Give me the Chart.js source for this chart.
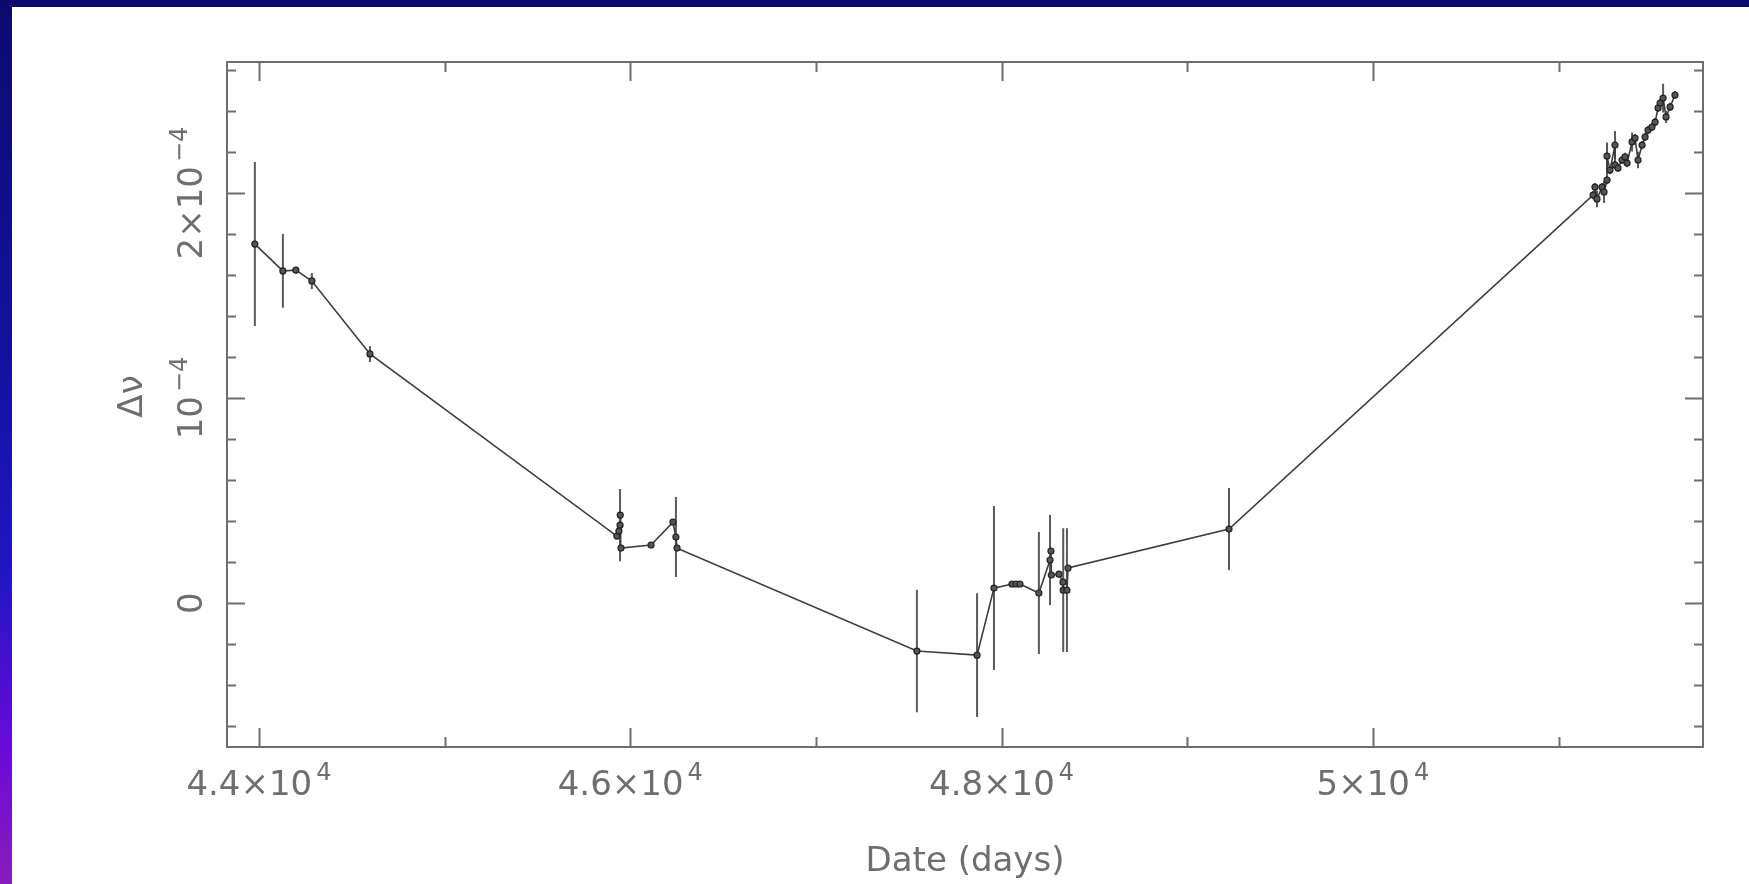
<!DOCTYPE html>
<html>
<head>
<meta charset="utf-8">
<script src="https://cdn.jsdelivr.net/npm/chart.js@4.4.1/dist/chart.umd.min.js"></script>
<style>
  html, body { margin: 0; padding: 0; }
  body { width: 1749px; height: 884px; position: relative; overflow: hidden; background: #fff; }
  #topband { position: absolute; left: 0; top: 0; width: 1749px; height: 7px; background: #0b0b6e; }
  #leftband { position: absolute; left: 0; top: 0; width: 12px; height: 884px;
    background: linear-gradient(#0b0b6e 0%, #1212a0 40%, #2016c4 65%, #6a0ad6 85%, #8a1cbc 100%); }
  #wrap { position: absolute; left: 12px; top: 7px; width: 1737px; height: 877px; }
</style>
</head>
<body>
<div id="topband"></div>
<div id="leftband"></div>
<div id="wrap"><canvas id="myChart" width="1737" height="877"></canvas></div>
<script>
// dates (days) and frequency offsets with their 1-sigma errors
const dates = [
  43978, 44129, 44199, 44285, 44598,
  45928, 45939, 45945, 45946, 45950, 46112, 46230, 46246, 46252,
  47544, 47868, 47959, 48056, 48078, 48099, 48201,
  48261, 48266, 48268, 48309, 48331, 48332, 48352, 48358,
  49225,
  51186, 51196, 51207, 51234, 51245, 51261, 51261, 51277, 51304, 51304,
  51320, 51342, 51358, 51369, 51396, 51412, 51428, 51450, 51466, 51482,
  51503, 51520, 51536, 51547, 51563, 51579, 51601, 51627
];
const dnu = [
  1.751e-4, 1.620e-4, 1.624e-4, 1.571e-4, 1.215e-4,
  0.327e-4, 0.351e-4, 0.380e-4, 0.429e-4, 0.268e-4, 0.283e-4, 0.395e-4, 0.322e-4, 0.268e-4,
  -0.234e-4, -0.254e-4, 0.073e-4, 0.093e-4, 0.093e-4, 0.093e-4, 0.049e-4,
  0.210e-4, 0.254e-4, 0.137e-4, 0.141e-4, 0.102e-4, 0.063e-4, 0.063e-4, 0.171e-4,
  0.361e-4,
  1.990e-4, 2.029e-4, 1.971e-4, 2.029e-4, 2.005e-4, 2.063e-4, 2.180e-4, 2.112e-4, 2.234e-4, 2.137e-4,
  2.122e-4, 2.161e-4, 2.176e-4, 2.146e-4, 2.249e-4, 2.268e-4, 2.161e-4, 2.234e-4, 2.273e-4, 2.307e-4,
  2.322e-4, 2.346e-4, 2.415e-4, 2.439e-4, 2.463e-4, 2.371e-4, 2.420e-4, 2.478e-4
];
const dnuErr = [
  0.400e-4, 0.180e-4, 0.015e-4, 0.039e-4, 0.039e-4,
  0.01e-4, 0.01e-4, 0.176e-4, 0.01e-4, 0.01e-4, 0.01e-4, 0.01e-4, 0.195e-4, 0.01e-4,
  0.298e-4, 0.302e-4, 0.400e-4, 0.01e-4, 0.01e-4, 0.01e-4, 0.298e-4,
  0.220e-4, 0.01e-4, 0.01e-4, 0.01e-4, 0.01e-4, 0.302e-4, 0.302e-4, 0.01e-4,
  0.200e-4,
  0.02e-4, 0.02e-4, 0.040e-4, 0.02e-4, 0.054e-4, 0.02e-4, 0.066e-4, 0.02e-4, 0.068e-4, 0.02e-4,
  0.02e-4, 0.02e-4, 0.02e-4, 0.02e-4, 0.046e-4, 0.02e-4, 0.040e-4, 0.02e-4, 0.02e-4, 0.02e-4,
  0.02e-4, 0.02e-4, 0.02e-4, 0.02e-4, 0.070e-4, 0.03e-4, 0.02e-4, 0.02e-4
];

// axis ranges and labelled ticks (base, exponent)
const xMin = 43828, xMax = 51778;
const yMin = -0.702e-4, yMax = 2.639e-4;
const xMinorStep = 1000, xMajorStep = 2000;
const yMinorStep = 2e-5, yMajorStep = 1e-4;
const xTickValues = [44000, 46000, 48000, 50000];
const xTickLabels = [['4.4×10', '4'], ['4.6×10', '4'], ['4.8×10', '4'], ['5×10', '4']];
const yTickValues = [0, 1e-4, 2e-4];
const yTickLabels = [['0', ''], ['10', '−4'], ['2×10', '−4']];

const FONT = '"DejaVu Sans", sans-serif';
const INK = '#6e6e6e';

function isMajor(v, step) {
  const r = v / step;
  return Math.abs(r - Math.round(r)) < 1e-6;
}

// ticks on whole multiples of the step inside the range
function stepTicks(step) {
  return s => {
    const t = [];
    for (let k = Math.ceil(s.min / step - 1e-9); k * step <= s.max + step * 1e-9; k++) {
      t.push({ value: k * step });
    }
    s.ticks = t;
  };
}

// text with a raised exponent, centred on (0,0) along the baseline
function drawSup(ctx, base, sup) {
  ctx.font = '34px ' + FONT;
  const wb = ctx.measureText(base).width;
  ctx.font = '24px ' + FONT;
  const ws = sup ? ctx.measureText(sup).width + 4 : 0;
  const x0 = -(wb + ws) / 2;
  ctx.textAlign = 'left';
  ctx.textBaseline = 'alphabetic';
  ctx.font = '34px ' + FONT;
  ctx.fillText(base, x0, 0);
  if (sup) {
    ctx.font = '24px ' + FONT;
    ctx.fillText(sup, x0 + wb + 4, -15);
  }
}

const framePlugin = {
  id: 'frame',
  beforeDatasetsDraw(chart) {
    const ctx = chart.ctx;
    const ys = chart.scales.y;
    const meta = chart.getDatasetMeta(0);
    ctx.save();
    ctx.strokeStyle = '#5a5a5a';
    ctx.lineWidth = 2;
    ctx.beginPath();
    meta.data.forEach((pt, i) => {
      const top = ys.getPixelForValue(dnu[i] + dnuErr[i]);
      const bot = ys.getPixelForValue(dnu[i] - dnuErr[i]);
      ctx.moveTo(pt.x, top);
      ctx.lineTo(pt.x, bot);
    });
    ctx.stroke();
    ctx.restore();
  },
  afterDraw(chart) {
    const ctx = chart.ctx;
    const a = chart.chartArea;
    const xs = chart.scales.x, ys = chart.scales.y;
    ctx.save();
    ctx.strokeStyle = INK;
    ctx.lineWidth = 2;
    ctx.strokeRect(a.left, a.top, a.right - a.left, a.bottom - a.top);

    // inward ticks on all four sides
    ctx.beginPath();
    xs.ticks.forEach(t => {
      const px = Math.round(xs.getPixelForValue(t.value)) + 0.5;
      const len = isMajor(t.value, xMajorStep) ? 19 : 10;
      ctx.moveTo(px, a.bottom); ctx.lineTo(px, a.bottom - len);
      ctx.moveTo(px, a.top); ctx.lineTo(px, a.top + len);
    });
    ys.ticks.forEach(t => {
      const py = Math.round(ys.getPixelForValue(t.value)) + 0.5;
      const len = isMajor(t.value, yMajorStep) ? 18 : 9;
      ctx.moveTo(a.left, py); ctx.lineTo(a.left + len, py);
      ctx.moveTo(a.right, py); ctx.lineTo(a.right - len, py);
    });
    ctx.stroke();

    ctx.fillStyle = INK;
    xTickValues.forEach((v, i) => {
      ctx.save();
      ctx.translate(xs.getPixelForValue(v), a.bottom + 48);
      drawSup(ctx, xTickLabels[i][0], xTickLabels[i][1]);
      ctx.restore();
    });
    yTickValues.forEach((v, i) => {
      ctx.save();
      ctx.translate(a.left - 25, ys.getPixelForValue(v));
      ctx.rotate(-Math.PI / 2);
      drawSup(ctx, yTickLabels[i][0], yTickLabels[i][1]);
      ctx.restore();
    });

    // axis titles
    ctx.font = '34px ' + FONT;
    ctx.textAlign = 'center';
    ctx.textBaseline = 'alphabetic';
    ctx.fillText('Date (days)', (a.left + a.right) / 2, a.bottom + 124);
    ctx.save();
    ctx.translate(a.left - 85, (a.top + a.bottom) / 2 - 8);
    ctx.rotate(-Math.PI / 2);
    ctx.fillText('Δν', 0, 0);
    ctx.restore();
    ctx.restore();
  }
};

const ctx = document.getElementById('myChart');
const chart = new Chart(ctx, {
  type: 'line',
  data: {
    datasets: [{
      label: 'Δν',
      data: dates.map((d, i) => ({ x: d, y: dnu[i] })),
      borderColor: '#3c3c3c',
      borderWidth: 1.6,
      tension: 0,
      pointRadius: 3,
      pointBorderWidth: 1.2,
      pointBackgroundColor: '#555',
      pointBorderColor: '#222'
    }]
  },
  options: {
    responsive: false,
    animation: false,
    layout: { padding: { left: 215, top: 55, right: 46, bottom: 137 } },
    plugins: { legend: { display: false }, tooltip: { enabled: false } },
    scales: {
      x: {
        type: 'linear', min: xMin, max: xMax,
        afterFit: s => { s.height = 0; },
        afterBuildTicks: stepTicks(xMinorStep),
        grid: { display: false }, border: { display: false },
        ticks: { display: false }
      },
      y: {
        type: 'linear', min: yMin, max: yMax,
        afterFit: s => { s.width = 0; },
        afterBuildTicks: stepTicks(yMinorStep),
        grid: { display: false }, border: { display: false },
        ticks: { display: false }
      }
    }
  },
  plugins: [framePlugin]
});
</script>
</body>
</html>
